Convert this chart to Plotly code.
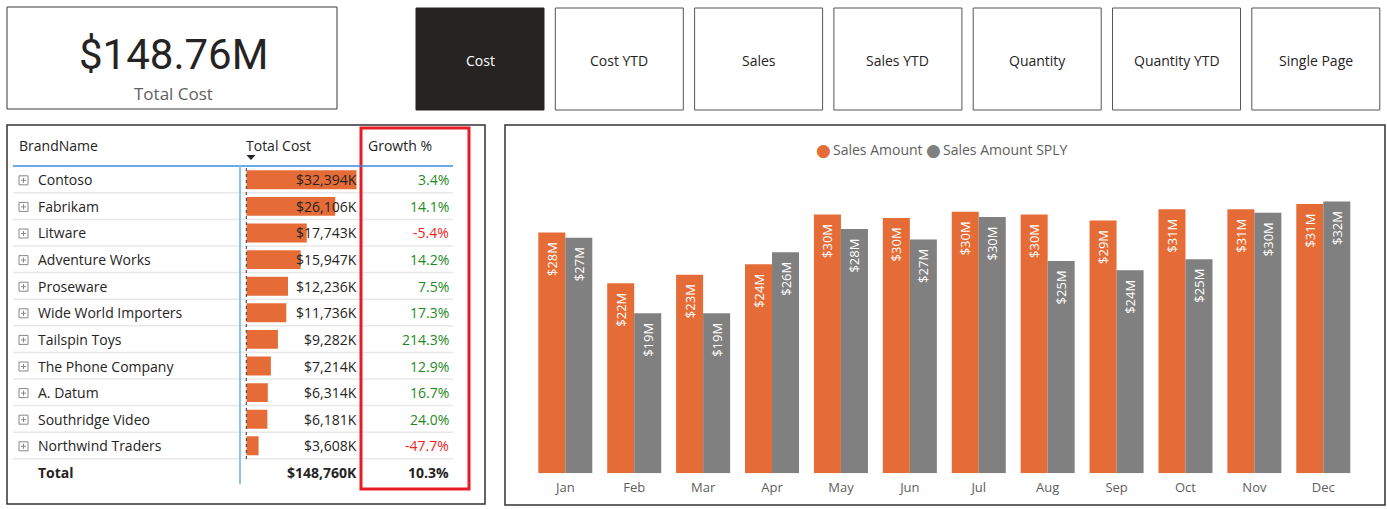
import plotly.graph_objects as go

# ---------------- data ----------------
months = ["Jan", "Feb", "Mar", "Apr", "May", "Jun", "Jul", "Aug", "Sep", "Oct", "Nov", "Dec"]
sales_amount = [28.0, 22.1, 23.1, 24.3, 30.1, 29.7, 30.4, 30.1, 29.4, 30.7, 30.7, 31.3]   # $M
sales_sply = [27.4, 18.6, 18.6, 25.7, 28.4, 27.2, 29.8, 24.7, 23.6, 24.9, 30.3, 31.6]     # $M

brands = ["Contoso", "Fabrikam", "Litware", "Adventure Works", "Proseware",
          "Wide World Importers", "Tailspin Toys", "The Phone Company", "A. Datum",
          "Southridge Video", "Northwind Traders"]
total_cost_k = [32394, 26106, 17743, 15947, 12236, 11736, 9282, 7214, 6314, 6181, 3608]
growth_pct = [3.4, 14.1, -5.4, 14.2, 7.5, 17.3, 214.3, 12.9, 16.7, 24.0, -47.7]
total_cost_total_k = 148760
total_growth_pct = 10.3

buttons = ["Cost", "Cost YTD", "Sales", "Sales YTD", "Quantity", "Quantity YTD", "Single Page"]
active_button = "Cost"

# ---------------- style ----------------
W, H = 1387, 509
ORANGE = "#E66C37"
GREY = "#808080"
DARK = "#252423"
MUTED = "#605E5C"
GREEN = "#1E8A1E"
RED = "#F01E1E"
FONT = "Segoe UI, Open Sans, sans-serif"


def X(px):
    return px / W


def Y(py):
    return 1 - py / H


shapes = []
annotations = []


def rect(x0, y0, x1, y1, line="#333333", width=1, fill="rgba(0,0,0,0)"):
    shapes.append(dict(type="rect", xref="paper", yref="paper",
                       x0=X(x0), x1=X(x1), y0=Y(y1), y1=Y(y0),
                       line=dict(color=line, width=width), fillcolor=fill, layer="below"))


def line(x0, y0, x1, y1, color, width=1, dash="solid", layer="above"):
    shapes.append(dict(type="line", xref="paper", yref="paper",
                       x0=X(x0), x1=X(x1), y0=Y(y0), y1=Y(y1),
                       line=dict(color=color, width=width, dash=dash), layer=layer))


def text(x, y, s, size=14, color=DARK, anchor="left", family=FONT):
    # compensate the annotation's own padding so the ink edge lands at x
    if anchor == "left":
        x -= 2
    elif anchor == "right":
        x += 2
    annotations.append(dict(xref="paper", yref="paper", x=X(x), y=Y(y), text=s,
                            showarrow=False, xanchor=anchor, yanchor="middle",
                            font=dict(size=size, color=color, family=family)))


fig = go.Figure()

# ---------------- KPI card ----------------
rect(7, 7, 337, 109, line="#3a3a3a", width=1)
text(173, 54, "$%.2fM" % (total_cost_total_k / 1000), size=42, color=DARK, anchor="center",
     family="Roboto, DejaVu Sans, sans-serif")
text(173, 93, "Total Cost", size=17, color=MUTED, anchor="center")

# ---------------- buttons ----------------
bx0, bw, bpitch = 416, 128, 139.3
for i, b in enumerate(buttons):
    x0 = bx0 + i * bpitch
    if b == active_button:
        rect(x0, 8, x0 + bw, 110, line=DARK, width=1, fill=DARK)
        text(x0 + bw / 2, 60, b, size=14, color="white", anchor="center")
    else:
        rect(x0, 8, x0 + bw, 110, line="#555555", width=1, fill="white")
        text(x0 + bw / 2, 60, b, size=14, color=DARK, anchor="center")

# ---------------- table panel ----------------
rect(7, 125, 485, 504, line="#333333", width=1.5)
text(19, 145, "BrandName")
text(246, 145, "Total Cost")
text(368, 145, "Growth %")
shapes.append(dict(type="path", xref="paper", yref="paper",
                   path="M %f %f L %f %f L %f %f Z" % (X(246.5), Y(155), X(255.5), Y(155), X(251), Y(160)),
                   fillcolor=DARK, line=dict(width=0)))
line(13, 166, 453, 166, "#3A8DDE", 1.5)

row0, pitch = 179.8, 26.6
for i, (b, v, g) in enumerate(zip(brands, total_cost_k, growth_pct)):
    yc = row0 + i * pitch
    # expand icon
    rect(19, yc - 4, 28, yc + 5, line="#8A8886", width=1, fill="white")
    line(21, yc + 0.5, 26, yc + 0.5, "#8A8886", 1)
    line(23.5, yc - 2, 23.5, yc + 3, "#8A8886", 1)
    text(38, yc, b)
    text(357, yc, "${:,}K".format(v), anchor="right")
    text(449, yc, "{:.1f}%".format(g), color=GREEN if g >= 0 else RED, anchor="right")
    line(13, yc + 13, 453, yc + 13, "#E8E8E8", 1.5, layer="below")

yt = row0 + len(brands) * pitch
text(38, yt, "<b>Total</b>")
text(357, yt, "<b>${:,}K</b>".format(total_cost_total_k), anchor="right")
text(449, yt, "<b>{:.1f}%</b>".format(total_growth_pct), anchor="right")

line(240, 166, 240, 484, "#8CC4F0", 2)
line(246.3, 168, 246.3, 460, "#333333", 1, dash="dot")
rect(361, 128, 469, 489, line="#E81C24", width=3)

# data bars in the Total Cost column
fig.add_trace(go.Bar(
    x=total_cost_k, y=list(range(len(brands))), orientation="h",
    marker=dict(color=ORANGE, line=dict(width=0)), width=0.71,
    xaxis="x2", yaxis="y2", hoverinfo="skip", showlegend=False,
))

# ---------------- chart panel ----------------
rect(505, 125, 1385, 505, line="#333333", width=1.5)
annotations.append(dict(xref="paper", yref="paper", x=X(823.5), y=Y(150), text="●", showarrow=False,
                        xanchor="center", yanchor="middle", font=dict(size=17, color=ORANGE, family="DejaVu Sans")))
text(833, 150, "Sales Amount", size=14, color=MUTED)
annotations.append(dict(xref="paper", yref="paper", x=X(933.5), y=Y(150), text="●", showarrow=False,
                        xanchor="center", yanchor="middle", font=dict(size=17, color=GREY, family="DejaVu Sans")))
text(943, 150, "Sales Amount SPLY", size=14, color=MUTED)

for name, vals, col in [("Sales Amount", sales_amount, ORANGE), ("Sales Amount SPLY", sales_sply, GREY)]:
    fig.add_trace(go.Bar(
        x=months, y=vals, name=name, marker=dict(color=col, line=dict(width=0)),
        texttemplate="$%{y:.0f}M\u2002", textposition="inside", insidetextanchor="end",
        textangle=-90, textfont=dict(color="white", size=13, family=FONT),
        constraintext="none", showlegend=False, hoverinfo="skip",
    ))

base_py, top_py, px_per_m = 473.3, 170, 8.6
fig.update_layout(
    width=W, height=H, autosize=False,
    margin=dict(l=0, r=0, t=0, b=0, pad=0),
    paper_bgcolor="white", plot_bgcolor="white",
    barmode="group", bargap=0.216, bargroupgap=0,
    showlegend=False,
    font=dict(family=FONT),
    xaxis=dict(domain=[X(530.85), X(1357.75)], showgrid=False, showline=False, zeroline=False,
               ticks="", ticklabelstandoff=5, tickfont=dict(size=13, color=MUTED, family=FONT),
               fixedrange=True),
    yaxis=dict(domain=[Y(base_py), Y(top_py)], range=[0, (base_py - top_py) / px_per_m],
               visible=False, fixedrange=True),
    xaxis2=dict(domain=[X(246.3), X(356.7)], range=[0, max(total_cost_k)], visible=False,
                anchor="y2", fixedrange=True),
    yaxis2=dict(domain=[Y(row0 + (len(brands) - 0.5) * pitch), Y(row0 - 0.5 * pitch)],
                range=[len(brands) - 0.5, -0.5], visible=False, anchor="x2", fixedrange=True),
    shapes=shapes, annotations=annotations,
)

fig.write_html("out.html", config={"displayModeBar": False},
               post_script="document.body.style.margin='0';document.body.style.overflow='hidden';")
